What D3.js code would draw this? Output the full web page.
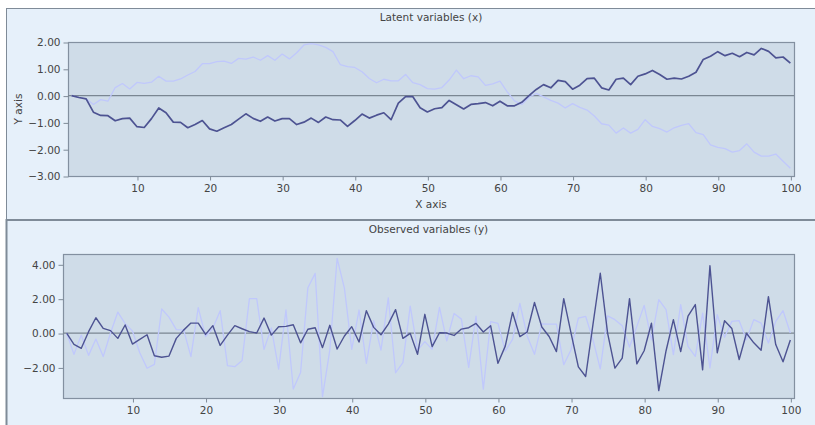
<!DOCTYPE html>
<html>
<head>
<meta charset="utf-8">
<script src="https://cdn.jsdelivr.net/npm/d3@7"></script>
<style>
  html, body { margin: 0; padding: 0; background: #ffffff; }
  svg { display: block; }
  text { font-family: "DejaVu Sans", sans-serif; fill: #444; }
</style>
</head>
<body>
<svg id="chart" width="815" height="425"></svg>
<script>
// ---------------- data ----------------
const xIndex = d3.range(1, 101);

const latentDark = [0, -0.07, -0.12, -0.62, -0.74, -0.75, -0.94, -0.86, -0.84, -1.16,
  -1.19, -0.86, -0.46, -0.64, -0.99, -1.0, -1.2, -1.08, -0.93, -1.24,
  -1.33, -1.2, -1.08, -0.88, -0.68, -0.85, -0.96, -0.8, -0.95, -0.86,
  -0.86, -1.08, -0.99, -0.84, -1.0, -0.8, -0.9, -0.91, -1.15, -0.93,
  -0.69, -0.84, -0.73, -0.64, -0.9, -0.28, -0.04, -0.04, -0.45, -0.61,
  -0.49, -0.45, -0.18, -0.34, -0.5, -0.33, -0.3, -0.26, -0.38, -0.21,
  -0.38, -0.38, -0.25, 0, 0.23, 0.41, 0.29, 0.57, 0.52, 0.24,
  0.39, 0.63, 0.65, 0.29, 0.21, 0.61, 0.65, 0.41, 0.72, 0.81,
  0.94, 0.79, 0.61, 0.65, 0.62, 0.72, 0.87, 1.35, 1.47, 1.64,
  1.49, 1.58, 1.45, 1.61, 1.52, 1.76, 1.65, 1.41, 1.44, 1.21];

const latentLight = [0, -0.07, -0.12, -0.33, -0.15, -0.21, 0.3, 0.45, 0.25, 0.49,
  0.46, 0.5, 0.72, 0.54, 0.54, 0.62, 0.77, 0.9, 1.19, 1.19,
  1.27, 1.29, 1.2, 1.39, 1.36, 1.44, 1.32, 1.49, 1.32, 1.55,
  1.37, 1.6, 1.89, 1.94, 1.89, 1.8, 1.64, 1.16, 1.08, 1.05,
  0.89, 0.64, 0.48, 0.61, 0.55, 0.55, 0.79, 0.48, 0.41, 0.26,
  0.24, 0.3, 0.58, 0.95, 0.63, 0.74, 0.7, 0.38, 0.44, 0.54,
  0.14, -0.2, -0.33, -0.06, 0.08, -0.05, -0.18, -0.28, -0.46, -0.3,
  -0.44, -0.54, -0.76, -1.05, -1.1, -1.4, -1.21, -1.4, -1.26, -0.9,
  -1.15, -1.23, -1.36, -1.2, -1.11, -1.05, -1.38, -1.46, -1.84, -1.93,
  -1.98, -2.11, -2.05, -1.8, -2.11, -2.26, -2.26, -2.18, -2.45, -2.71];

const observedDark = [0, -0.66, -0.89, 0.08, 0.89, 0.27, 0.14, -0.31, 0.47, -0.64,
  -0.37, -0.1, -1.32, -1.41, -1.34, -0.31, 0.17, 0.58, 0.58, -0.08,
  0.43, -0.72, -0.12, 0.43, 0.25, 0.08, 0, 0.87, -0.12, 0.37,
  0.39, 0.48, -0.57, 0.22, 0.31, -0.85, 0.45, -0.93, -0.17, 0.37,
  -0.52, 1.3, 0.33, -0.1, 0.52, 1.36, -0.31, -0.02, -1.24, 1.09,
  -0.79, 0.02, 0, -0.14, 0.23, 0.31, 0.56, 0.06, 0.43, -1.76,
  -0.76, 1.2, -0.21, 0.06, 1.78, 0.35, -0.2, -1.08, 2.0, 0,
  -1.97, -2.53, 0.5, 3.48, 0, -2.04, -1.46, 2.0, -1.79, -1.03,
  0.57, -3.35, -1.03, 0.78, -1.08, 0.98, 1.66, -2.14, 3.92, -1.15,
  0.72, 0.26, -1.54, -0.01, -0.57, -1.0, 2.12, -0.67, -1.67, -0.4];

const observedLight = [0, -1.24, -0.12, -1.3, -0.35, -1.37, 0, 1.22, 0.55, 0.12,
  -1.15, -2.05, -1.82, 1.4, 0.93, 0.2, 0.18, -1.37, 1.48, -0.2,
  0.28, 1.3, -1.9, -1.96, -1.6, 2.0, 2.0, -0.95, 0.3, -2.1,
  1.34, -3.26, -2.3, 2.64, 3.47, -3.7, -0.99, 4.35, 2.6, -0.95,
  1.34, -1.76, 0.72, -0.99, 2.05, -2.31, -1.72, 1.57, -0.99, -0.5,
  -0.95, 1.49, -0.45, 1.14, 0.81, -2.0, 0.99, -3.26, 0.66, 0.56,
  -1.05, -0.37, 1.72, -0.17, -1.24, 0.53, 0.52, 0.52, -1.84, -0.97,
  0.87, 0.97, -0.39, -2.09, 1.0, 0.78, 0.43, -0.81, 0.39, 1.61,
  -0.39, 1.94, 1.36, -1.26, 1.65, -0.78, -1.36, 1.16, -2.03, 1.07,
  -0.25, 0.68, 0.72, -0.39, 0.78, 0.58, -0.58, 0.68, 1.3, 0];

const xTicks = [10, 20, 30, 40, 50, 60, 70, 80, 90, 100];
const latentYTicks = [-3, -2, -1, 0, 1, 2];
const observedYTicks = [-2, 0, 2, 4];

const panelTitles = ["Latent variables (x)", "Observed variables (y)"];
const axisTitles = ["X axis", "Y axis"];

// ---------------- drawing ----------------
const svg = d3.select("#chart");
const fmt = d3.format(".2f");

const C = {
  panelFill: "#e6f0fa",
  panelStroke: "#7f8b98",
  plotFill: "#cfdce8",
  plotStroke: "#8390a0",
  zero: "#7a8692",
  dark: "#4d5392",
  light: "#c0c8fc",
  tick: "#7f8b98"
};

// panel backgrounds
svg.append("rect").attr("x", 6.5).attr("y", 8.5).attr("width", 830).attr("height", 211)
  .attr("fill", C.panelFill).attr("stroke", C.panelStroke).attr("stroke-width", 1);
svg.append("rect").attr("x", 6.5).attr("y", 220).attr("width", 830).attr("height", 220)
  .attr("fill", C.panelFill).attr("stroke", C.panelStroke).attr("stroke-width", 2);

function drawPanel(cfg) {
  const x = d3.scaleLinear().domain([0.5, 100.5]).range([cfg.left, cfg.right]);
  const y = d3.scaleLinear().domain(cfg.yDomain).range([cfg.bottom, cfg.top]);
  const g = svg.append("g");

  g.append("rect")
    .attr("x", cfg.left + 0.5).attr("y", cfg.top + 0.5)
    .attr("width", cfg.right - cfg.left).attr("height", cfg.bottom - cfg.top)
    .attr("fill", C.plotFill).attr("stroke", C.plotStroke).attr("stroke-width", 1.2);

  // axes
  const xAxis = d3.axisBottom(x).tickValues(xTicks).tickSize(4).tickPadding(4)
    .tickFormat(d3.format("d"));
  const xa = g.append("g").attr("transform", `translate(0.5,${cfg.bottom + 0.5})`).call(xAxis);
  const yAxis = d3.axisLeft(y).tickValues(cfg.yTicks).tickSize(5).tickPadding(3).tickFormat(fmt);
  const ya = g.append("g").attr("transform", `translate(${cfg.left + 0.5},0.5)`).call(yAxis);
  [xa, ya].forEach(a => {
    a.select(".domain").remove();
    a.selectAll(".tick line").attr("stroke", C.tick);
    a.selectAll(".tick text").attr("font-size", "10.5px").attr("fill", "#4a4a4a")
      .attr("font-family", "DejaVu Sans, sans-serif");
  });

  // zero line
  g.append("line")
    .attr("x1", cfg.left).attr("x2", cfg.right)
    .attr("y1", y(0)).attr("y2", y(0))
    .attr("stroke", C.zero).attr("stroke-width", 1.3);

  const clipId = "clip" + cfg.id;
  svg.append("clipPath").attr("id", clipId).append("rect")
    .attr("x", cfg.left).attr("y", cfg.top).attr("width", cfg.right - cfg.left)
    .attr("height", cfg.bottom - cfg.top);

  const line = d3.line().x((d, i) => x(xIndex[i])).y(d => y(d));
  g.append("path").datum(cfg.lightSeries).attr("d", line)
    .attr("fill", "none").attr("stroke", C.light).attr("stroke-width", 1.3)
    .attr("stroke-linejoin", "round").attr("clip-path", `url(#${clipId})`);
  g.append("path").datum(cfg.darkSeries).attr("d", line)
    .attr("fill", "none").attr("stroke", C.dark).attr("stroke-width", cfg.darkWidth)
    .attr("stroke-linejoin", "round").attr("clip-path", `url(#${clipId})`);

  // title
  g.append("text").attr("x", (cfg.left + cfg.right) / 2).attr("y", cfg.titleY)
    .attr("text-anchor", "middle").attr("font-size", "10.5px").text(cfg.title);

  if (cfg.axisLabels) {
    g.append("text").attr("x", (cfg.left + cfg.right) / 2).attr("y", cfg.bottom + 32)
      .attr("text-anchor", "middle").attr("font-size", "10.5px").text(axisTitles[0]);
    g.append("text")
      .attr("transform", `translate(22,${(cfg.top + cfg.bottom) / 2}) rotate(-90)`)
      .attr("text-anchor", "middle").attr("font-size", "10.5px").text(axisTitles[1]);
  }
}

drawPanel({
  id: 1, left: 68, right: 794, top: 42, bottom: 176,
  yDomain: [-3, 2], yTicks: latentYTicks,
  darkSeries: latentDark, lightSeries: latentLight, darkWidth: 1.7,
  title: panelTitles[0], titleY: 21, axisLabels: true
});

drawPanel({
  id: 2, left: 63, right: 794, top: 254, bottom: 398,
  yDomain: [-3.78, 4.6], yTicks: observedYTicks,
  darkSeries: observedDark, lightSeries: observedLight, darkWidth: 1.4,
  title: panelTitles[1], titleY: 233, axisLabels: false
});
</script>
</body>
</html>
